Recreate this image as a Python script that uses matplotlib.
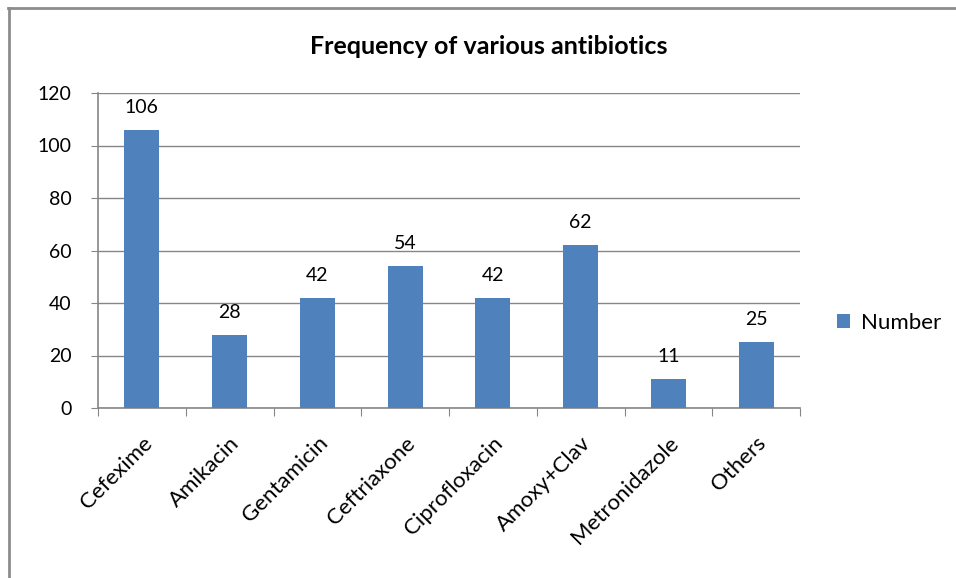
import matplotlib.pyplot as plt
from matplotlib.lines import Line2D

# data
drugs = ['Cefexime', 'Amikacin', 'Gentamicin', 'Ceftriaxone', 'Ciprofloxacin',
         'Amoxy+Clav', 'Metronidazole', 'Others']
counts = [106, 28, 42, 54, 42, 62, 11, 25]
y_ticks = [0, 20, 40, 60, 80, 100, 120]

plt.rcParams['font.family'] = ['Lato', 'DejaVu Sans']

fig = plt.figure(figsize=(9.56, 5.78), dpi=100)
ax = fig.add_axes([98 / 956, 1 - 408 / 578, 702 / 956, 315 / 578])

x = range(len(drugs))
bars = ax.bar(x, counts, width=0.4, color='#4F81BD', label='Number', zorder=3)

for b, v in zip(bars, counts):
    ax.annotate(str(v), (b.get_x() + b.get_width() / 2, v),
                xytext=(0, 10), textcoords='offset points',
                ha='center', va='bottom', fontsize=14)

ax.set_xlim(-0.5, len(drugs) - 0.5)
ax.set_ylim(0, 120)
ax.set_yticks(y_ticks)
ax.tick_params(axis='y', labelsize=14, length=5, color='#868686', pad=14)
ax.set_xticks([i - 0.5 for i in range(len(drugs) + 1)], minor=False)
ax.set_xticklabels([])
ax.set_xticks(list(x), minor=True)
ax.set_xticklabels(drugs, minor=True, rotation=45, ha='right',
                   rotation_mode='anchor', fontsize=16)
ax.tick_params(axis='x', which='major', length=6, color='#868686')
ax.tick_params(axis='x', which='minor', length=0, pad=18)
ax.grid(axis='y', color='#868686', linewidth=1, zorder=0)

for s in ['top', 'right']:
    ax.spines[s].set_visible(False)
for s in ['left', 'bottom']:
    ax.spines[s].set_color('#868686')
    ax.spines[s].set_linewidth(1.2)

fig.text(489 / 956, 1 - 47 / 578, 'Frequency of various antibiotics',
         ha='center', va='center', fontsize=18, fontweight='bold')

ax.legend(loc='center left', bbox_to_anchor=(1.024, 0.27), frameon=False,
          fontsize=16, handlelength=0.6, handleheight=0.6, handletextpad=0.5)

# outer chart frame (only left and top edges visible)
fig.add_artist(Line2D([9 / 956, 9 / 956], [0, 1 - 8 / 578],
                      transform=fig.transFigure, color='#8c8c8c', lw=2))
fig.add_artist(Line2D([8 / 956, 1], [1 - 8 / 578, 1 - 8 / 578],
                      transform=fig.transFigure, color='#8c8c8c', lw=2))

fig.savefig('out.png', dpi=100)
